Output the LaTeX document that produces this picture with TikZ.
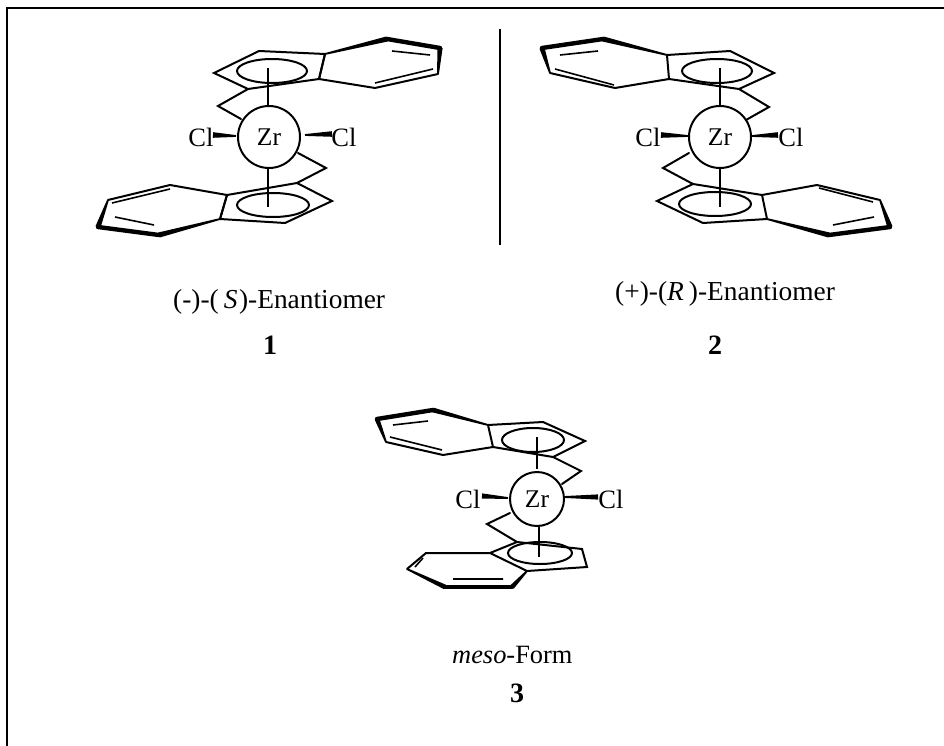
\documentclass[tikz,border=0pt]{standalone}
\usepackage{fontspec}
\setmainfont{Liberation Serif}
\usetikzlibrary{calc}
% taper: thin at first point, half-width #3 at second point
\newcommand{\tapr}[3]{\fill[line join=round] ($#1!0.9pt!90:#2$) -- ($#1!0.9pt!-90:#2$) -- ($#2!#3!90:#1$) -- ($#2!#3!-90:#1$) -- cycle;}
\tikzset{
  bond/.style={line width=2pt,line join=miter,line cap=round},
  thin bond/.style={line width=1.6pt,line cap=butt},
  boldbond/.style={line width=4.4pt,line cap=round},
  zr/.style={circle,draw,line width=2pt,minimum size=#1,inner sep=0pt,font=\fontsize{25.5}{28}\selectfont},
  cl/.style={inner sep=0pt,font=\fontsize{26.5}{28}\selectfont},
  cap text/.style={anchor=base west,inner sep=0pt,font=\fontsize{27.4}{30}\selectfont},
  num text/.style={anchor=base,inner sep=0pt,font=\fontsize{28}{30}\selectfont\bfseries},
}
\begin{document}
\begin{tikzpicture}[x=1pt,y=-1pt]
\useasboundingbox (0,0) rectangle (944,746);
\fill[white] (0,0) rectangle (944,746);
% frame
\draw[line width=2pt] (7,746) -- (7,8) -- (944,8);
% separator
\draw[line width=2pt] (500,29) -- (500,245);

%%% Molecule 1
\node[zr=62pt] (z1) at (269,137) {Zr};
\node[cl] (c1a) at (201,137) {Cl};
\node[cl] (c1b) at (344,137) {Cl};
\tapr{(236,136)}{(213,135)}{2.8pt}
\tapr{(305,135)}{(332,134)}{2.8pt}
\draw[bond] (248,89) -- (214,73) -- (259,51) -- (325,54) -- (319,79) -- cycle;
\draw[bond] (325,54) -- (319,79) -- (375,88) -- (438,74);
\draw[bond] (272,71) ellipse [x radius=35,y radius=12];
\draw[thin bond] (392,51) -- (430,55) (375,83) -- (433,69);
\tapr{(325,54)}{(387,39)}{2.6pt}
\draw[boldbond] (387,39) -- (440,48);
\tapr{(438,74)}{(440,48)}{2.6pt}
\draw[thin bond] (268,68) -- (268,106);
\draw[bond] (248,89) -- (218,106) -- (241,119);
\draw[bond] (298,153) -- (326,168) -- (297,183);
\draw[thin bond] (268,168) -- (268,207);
\draw[bond] (227,195) -- (297,183) -- (332,201) -- (285,223) -- (220,219) -- cycle;
\draw[bond] (220,219) -- (227,195) -- (170,185) -- (108,200);
\draw[bond] (273,205) ellipse [x radius=36,y radius=12];
\draw[thin bond] (170,189) -- (112,203) (115,217) -- (154,225);
\tapr{(108,200)}{(98,227)}{2.6pt}
\draw[boldbond] (98,227) -- (159,235);
\tapr{(220,219)}{(159,235)}{2.6pt}

%%% Molecule 2
\node[zr=62pt] (z2) at (720,137) {Zr};
\node[cl] (c2a) at (648,137) {Cl};
\node[cl] (c2b) at (791,137) {Cl};
\tapr{(688,136)}{(661,135)}{2.8pt}
\tapr{(752,136)}{(778,135)}{2.8pt}
\draw[bond] (667,55) -- (730,51) -- (774,73) -- (739,89) -- (669,79) -- cycle;
\draw[bond] (669,79) -- (615,88) -- (550,73);
\draw[bond] (717,71) ellipse [x radius=35,y radius=12];
\draw[thin bond] (560,55) -- (598,51) (555,69) -- (614,85);
\tapr{(667,55)}{(603,39)}{2.6pt}
\draw[boldbond] (603,39) -- (542,48);
\tapr{(550,73)}{(542,48)}{2.6pt}
\draw[thin bond] (720,68) -- (720,106);
\draw[bond] (739,89) -- (769,107) -- (746,120);
\draw[bond] (689,153) -- (663,168) -- (693,184);
\draw[thin bond] (720,168) -- (720,207);
\draw[bond] (762,195) -- (693,184) -- (657,201) -- (703,223) -- (767,219) -- cycle;
\draw[bond] (762,195) -- (817,185) -- (880,200);
\draw[bond] (715,204) ellipse [x radius=36,y radius=12];
\draw[thin bond] (819,188) -- (873,202) (833,225) -- (874,217);
\tapr{(880,200)}{(890,227)}{2.6pt}
\draw[boldbond] (890,227) -- (829,235);
\tapr{(767,219)}{(829,235)}{2.6pt}

%%% Molecule 3
\node[zr=54pt] (z3) at (537,499) {Zr};
\node[cl] (c3a) at (468,499) {Cl};
\node[cl] (c3b) at (611,499) {Cl};
\tapr{(508,498)}{(482,496)}{2.6pt}
\tapr{(564,497)}{(598,497)}{2.6pt}
\draw[bond] (488,425) -- (543,422) -- (585,441) -- (553,457) -- (493,447) -- cycle;
\draw[bond] (493,447) -- (443,455) -- (386,442);
\draw[bond] (533,440) ellipse [x radius=31,y radius=12];
\draw[thin bond] (393,425) -- (428,421) (390,437) -- (442,450);
\tapr{(488,425)}{(433,410)}{2.4pt}
\draw[boldbond] (433,410) -- (377,419);
\tapr{(386,442)}{(377,419)}{2.4pt}
\draw[thin bond] (537,437) -- (537,469);
\draw[bond] (553,457) -- (581,471) -- (562,484);
\draw[bond] (510,513) -- (487,524) -- (517,542);
\draw[thin bond] (539,526) -- (539,557);
\draw[bond] (490,553) -- (517,542) -- (582,549) -- (587,567) -- (527,571) -- cycle;
\draw[bond] (490,553) -- (426,553) -- (407,569);
\draw[bond] (540,553) ellipse [x radius=32,y radius=11];
\draw[thin bond] (423,558) -- (415,567) (453,579) -- (503,579);
\tapr{(407,569)}{(445,587)}{2.4pt}
\draw[line width=4pt,line cap=round] (445,587) -- (512,587);
\tapr{(527,571)}{(512,587)}{2.4pt}

%%% Captions
\node[cap text] (t1) at (173,308) {(-)-(\hspace{5pt}\textit{S}\hspace{1.5pt})-Enantiomer};
\node[num text] (n1) at (270,354) {1};
\node[cap text] (t2) at (615,300) {(+)-(\textit{R}\hspace{5pt})-Enantiomer};
\node[num text] (n2) at (715,354) {2};
\node[cap text,font=\fontsize{26.4}{30}\selectfont] (t3) at (452,663) {\textit{meso}-Form};
\node[num text] (n3) at (517,702) {3};
\end{tikzpicture}
\end{document}
